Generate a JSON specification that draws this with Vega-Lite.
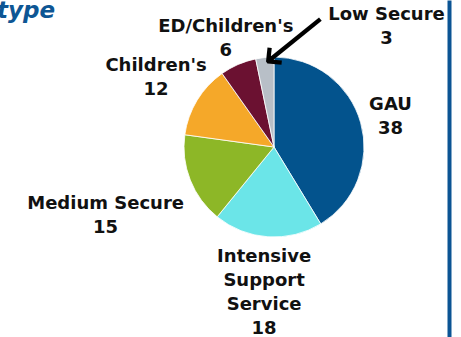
{
  "$schema": "https://vega.github.io/schema/vega-lite/v6.json",
  "width": 350,
  "height": 337,
  "autosize": {"type": "none"},
  "padding": {"left": 99, "right": 12, "top": 0, "bottom": 0},
  "background": "white",
  "title": {"text": "type", "anchor": "start", "frame": "group", "dx": -102, "offset": -26, "font": "DejaVu Sans", "fontSize": 23, "fontWeight": "bold", "fontStyle": "italic", "color": "#0D5694"},
  "data": {"values": [
    {"type": "GAU", "count": 38, "label": "GAU\n38"},
    {"type": "Intensive Support Service", "count": 18, "label": "Intensive\nSupport\nService\n18"},
    {"type": "Medium Secure", "count": 15, "label": "Medium Secure\n15"},
    {"type": "Children's", "count": 12, "label": "Children's\n12"},
    {"type": "ED/Children's", "count": 6, "label": "ED/Children's\n6"},
    {"type": "Low Secure", "count": 3, "label": "Low Secure\n3"}
  ]},
  "encoding": {
    "theta": {"field": "count", "type": "quantitative", "stack": true},
    "order": {"field": "count", "type": "quantitative", "sort": "descending"}
  },
  "layer": [
    {
      "mark": {"type": "arc", "radius": 90, "yOffset": -21.5, "stroke": "white", "strokeWidth": 0.8},
      "encoding": {
        "color": {"field": "type", "type": "nominal", "legend": null, "sort": null,
          "scale": {"domain": ["GAU", "Intensive Support Service", "Medium Secure", "Children's", "ED/Children's", "Low Secure"],
                    "range": ["#03538D", "#6BE5E8", "#8DB727", "#F5A829", "#6B1131", "#B8BFC7"]}}
      }
    },
    {
      "mark": {"type": "text", "yOffset": -21.5,
        "radius": {"expr": "datum.type === 'GAU' ? 121 : datum.type === 'Intensive Support Service' ? 145 : datum.type === 'Medium Secure' ? 181 : datum.type === \"Children's\" ? 138 : datum.type === \"ED/Children's\" ? 121 : 100"},
        "dx": {"expr": "datum.type === 'Low Secure' ? 122.7 : 0"},
        "dy": {"expr": "datum.type === 'Intensive Support Service' ? -34.5 : datum.type === 'Low Secure' ? -33 : -9.5"},
        "font": "DejaVu Sans", "fontSize": 18, "fontWeight": "bold", "lineHeight": 24, "lineBreak": "\n", "align": "center", "baseline": "middle", "color": "#111111"},
      "encoding": {"text": {"field": "label", "type": "nominal"}}
    },
    {
      "mark": {"type": "text", "radius": 100, "yOffset": -21.5, "angle": 321, "dx": 27.6, "dy": 13.9, "font": "DejaVu Sans", "fontSize": 52, "align": "center", "baseline": "middle", "color": "#000000"},
      "encoding": {"text": {"condition": {"test": "datum.type === 'Low Secure'", "value": "⟵"}, "value": ""}}
    },
    {
      "mark": {"type": "point", "opacity": 0},
      "encoding": {
        "theta": null,
        "y": {"field": "count", "type": "quantitative",
          "axis": {"orient": "right", "domainColor": "#0B5494", "domainWidth": 4, "ticks": false, "labels": false, "title": null, "grid": false, "offset": 0}}
      }
    }
  ],
  "config": {"view": {"stroke": null}}
}
